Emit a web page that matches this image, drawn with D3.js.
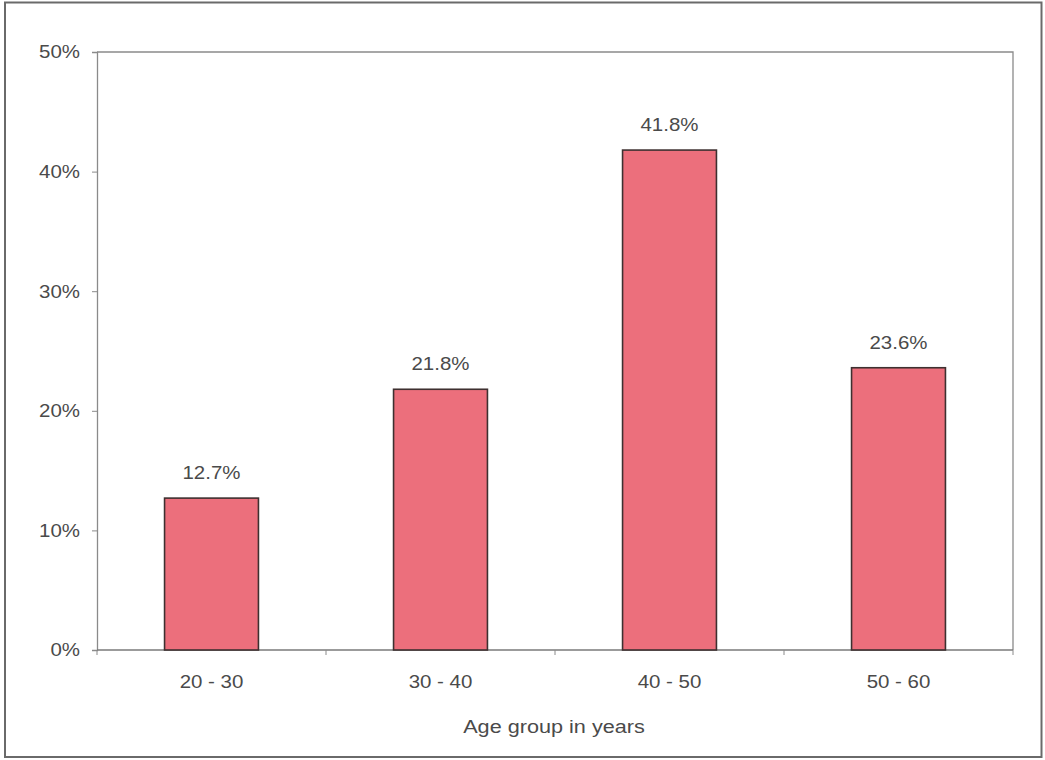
<!DOCTYPE html>
<html>
<head>
<meta charset="utf-8">
<script src="https://cdn.jsdelivr.net/npm/d3@7"></script>
<style>
  html, body { margin: 0; padding: 0; background: #fff; }
  text { font-family: "Liberation Sans", Arial, sans-serif; fill: #4a4a4a; }
</style>
</head>
<body>
<svg id="chart" width="1045" height="760"></svg>
<script>
const categories = ["20 - 30", "30 - 40", "40 - 50", "50 - 60"];
const values = [12.7, 21.8, 41.8, 23.6];
const yTicks = [0, 10, 20, 30, 40, 50];
const xTitle = "Age group in years";

const svg = d3.select("#chart");
const W = 1045, H = 760;
const m = { left: 97, top: 52, right: 1013, bottom: 650 };
const sx = 1.17; // horizontal stretch of scanned text

// outer frame
svg.append("rect").attr("x", 5).attr("y", 2.5).attr("width", 1036.5).attr("height", 754.5)
  .attr("fill", "#fff").attr("stroke", "#6a6a6a").attr("stroke-width", 2);

const x = d3.scaleBand().domain(categories).range([m.left, m.right])
  .paddingInner(0.59).paddingOuter(0.295);
const y = d3.scaleLinear().domain([0, 50]).range([m.bottom, m.top]);

// plot area top & right lines
svg.append("path")
  .attr("d", `M${m.left},${m.top}H${m.right}V${m.bottom}`)
  .attr("fill", "none").attr("stroke", "#8a8a8a").attr("stroke-width", 1.3);

// y axis
const yAxis = svg.append("g").attr("transform", `translate(${m.left},0)`)
  .call(d3.axisLeft(y).tickValues(yTicks).tickSize(5).tickPadding(0).tickFormat(d => ""));
yAxis.select(".domain").attr("stroke", "#8a8a8a").attr("stroke-width", 1.3);
yAxis.selectAll(".tick line").attr("stroke", "#8a8a8a");

yTicks.forEach(t => {
  svg.append("text")
    .attr("transform", `translate(80,${y(t)}) scale(${sx},1)`)
    .attr("text-anchor", "end").attr("dy", "0.36em")
    .attr("font-size", 17.5).text(t + "%");
});

// x axis
const xg = svg.append("g").attr("transform", `translate(0,${m.bottom})`);
xg.append("line").attr("x1", m.left).attr("x2", m.right)
  .attr("stroke", "#7a7a7a").attr("stroke-width", 1.3);
const step = x.step();
const bounds = d3.range(categories.length + 1).map(i => m.left + i * step);
xg.selectAll("line.tk").data(bounds).join("line").attr("class", "tk")
  .attr("x1", d => d).attr("x2", d => d).attr("y1", 0).attr("y2", 5)
  .attr("stroke", "#8a8a8a");

// bars
svg.selectAll("rect.bar").data(values).join("rect").attr("class", "bar")
  .attr("x", (d, i) => x(categories[i]))
  .attr("y", d => y(d))
  .attr("width", x.bandwidth())
  .attr("height", d => y(0) - y(d))
  .attr("fill", "#ec6f7c").attr("stroke", "#3e3030").attr("stroke-width", 1.6);

// value labels
values.forEach((v, i) => {
  svg.append("text")
    .attr("transform", `translate(${x(categories[i]) + x.bandwidth() / 2},${y(v) - 19}) scale(${sx},1)`)
    .attr("text-anchor", "middle").attr("font-size", 17.5)
    .text(v.toFixed(1) + "%");
});

// category labels
categories.forEach(c => {
  svg.append("text")
    .attr("transform", `translate(${x(c) + x.bandwidth() / 2},688) scale(${sx},1)`)
    .attr("text-anchor", "middle").attr("font-size", 17.5).text(c);
});

// axis title
svg.append("text")
  .attr("transform", `translate(${(m.left + m.right) / 2 - 1},733) scale(${sx},1)`)
  .attr("text-anchor", "middle").attr("font-size", 18.5).text(xTitle);
</script>
</body>
</html>
